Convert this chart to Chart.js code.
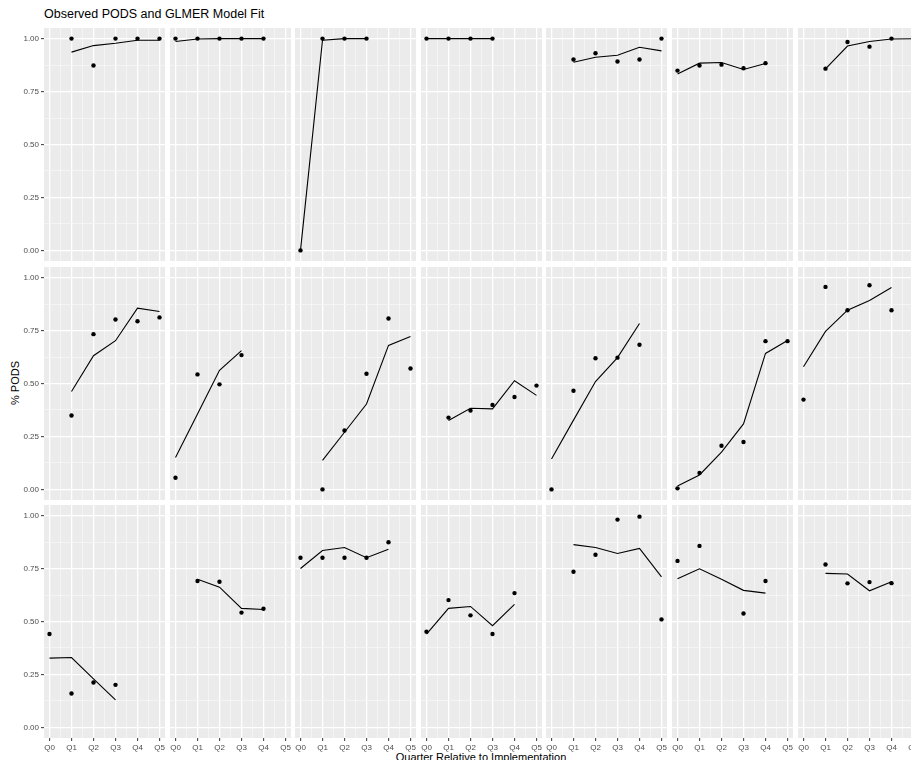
<!DOCTYPE html>
<html>
<head>
<meta charset="utf-8">
<script src="https://cdn.jsdelivr.net/npm/chart.js@4.4.1/dist/chart.umd.min.js"></script>
<style>
  html, body { margin: 0; padding: 0; background: #fff; overflow: hidden; }
  #page { position: relative; width: 911px; height: 760px; overflow: hidden; font-family: "Liberation Sans", Arial, sans-serif; }
  #page canvas { position: absolute; }
  .lbl { position: absolute; white-space: nowrap; color: #000; line-height: 1; }
</style>
</head>
<body>
<div id="page">
  <div class="lbl" style="left:44px; top:8px; font-size:12.5px;">Observed PODS and GLMER Model Fit</div>
  <div class="lbl" style="left:15px; top:383px; font-size:11px; transform: translate(-50%, -50%) rotate(-90deg);">% PODS</div>
  <div class="lbl" style="left:481px; top:752px; font-size:11px; transform: translateX(-50%);">Quarter Relative to Implementation</div>
</div>
<script>
// quarters on the x axis
const quarters = ['Q0', 'Q1', 'Q2', 'Q3', 'Q4', 'Q5'];
const yTicks = [0, 0.25, 0.5, 0.75, 1];

// observed PODS share per facet (row by row, 7 facets per row), null = no data
const observed = [
  [null, 1.00, 0.873, 1.00, 1.00, 1.00],
  [1.00, 1.00, 1.00, 1.00, 1.00, null],
  [0.00, 1.00, 1.00, 1.00, null, null],
  [1.00, 1.00, 1.00, 1.00, null, null],
  [null, 0.901, 0.931, 0.892, 0.901, 1.00],
  [0.849, 0.873, 0.877, 0.860, 0.884, null],
  [null, 0.858, 0.984, 0.962, 1.00, null],

  [null, 0.349, 0.733, 0.802, 0.794, 0.812],
  [0.055, 0.543, 0.496, 0.634, null, null],
  [null, 0.00, 0.278, 0.546, 0.807, 0.571],
  [null, 0.339, 0.372, 0.399, 0.436, 0.490],
  [0.00, 0.466, 0.619, 0.622, 0.683, null],
  [0.005, 0.078, 0.206, 0.224, 0.700, 0.700],
  [0.424, 0.956, 0.846, 0.964, 0.846, null],

  [0.441, 0.160, 0.212, 0.201, null, null],
  [null, 0.691, 0.688, 0.542, 0.560, null],
  [0.801, 0.801, 0.801, 0.801, 0.874, null],
  [0.452, 0.601, 0.529, 0.441, 0.634, null],
  [null, 0.735, 0.815, 0.981, 0.995, 0.510],
  [0.786, 0.857, null, 0.538, 0.691, null],
  [null, 0.769, 0.680, 0.686, 0.681, null]
];

// GLMER fitted values per facet
const fitted = [
  [null, 0.936, 0.967, 0.978, 0.992, 0.992],
  [0.986, 0.998, 1.00, 1.00, 1.00, null],
  [0.00, 0.992, 1.00, 1.00, null, null],
  [1.00, 1.00, 1.00, 1.00, null, null],
  [null, 0.888, 0.912, 0.921, 0.959, 0.942],
  [0.833, 0.884, 0.887, 0.854, 0.882, null],
  [null, 0.857, 0.965, 0.986, 0.998, 0.999],

  [null, 0.462, 0.631, 0.702, 0.856, 0.840],
  [0.151, 0.356, 0.562, 0.655, null, null],
  [null, 0.137, 0.270, 0.403, 0.680, 0.722],
  [null, 0.325, 0.383, 0.380, 0.513, 0.444],
  [0.144, 0.327, 0.509, 0.622, 0.783, null],
  [0.016, 0.068, 0.176, 0.309, 0.642, 0.703],
  [0.579, 0.746, 0.846, 0.892, 0.953, null],

  [0.327, 0.330, 0.229, 0.130, null, null],
  [null, 0.699, 0.662, 0.562, 0.557, null],
  [0.750, 0.835, 0.849, 0.801, 0.841, null],
  [0.440, 0.562, 0.571, 0.480, 0.581, null],
  [null, 0.863, 0.849, 0.821, 0.845, 0.711],
  [0.702, 0.749, 0.699, 0.647, 0.634, null],
  [null, 0.727, 0.724, 0.645, 0.688, null]
];

// facet layout
const colLeft = [44, 170, 295, 421, 546, 672, 798];
const rowTop = [28, 267, 505];
const panelW = 121;
const panelH = 233;
const yAxisW = 44;
const xAxisH = 20;

Chart.defaults.font.family = '"Liberation Sans", Arial, sans-serif';
Chart.defaults.color = '#4D4D4D';

// grey panel background
const panelBg = {
  id: 'panelBg',
  beforeDraw(chart) {
    const { ctx, chartArea: a } = chart;
    ctx.save();
    ctx.fillStyle = '#EBEBEB';
    ctx.fillRect(a.left, a.top, a.right - a.left, a.bottom - a.top);
    ctx.restore();
  }
};

const isWhole = v => Math.abs(v - Math.round(v)) < 1e-6;
const isYMajor = v => yTicks.some(t => Math.abs(t - v) < 1e-6);

function toPoints(arr) {
  const pts = [];
  arr.forEach((v, i) => { if (v !== null) pts.push({ x: i, y: v }); });
  return pts;
}

// no label padding: keep every facet's data range identical
function noPad(s) {
  s.paddingTop = 0;
  s.paddingBottom = 0;
  s.paddingLeft = 0;
  s.paddingRight = 0;
}

const xGrid = [];
for (let i = 0; i <= 10; i++) xGrid.push(i / 2);
const yGrid = [];
for (let i = 0; i <= 8; i++) yGrid.push(i / 8);

const page = document.getElementById('page');

observed.forEach((obs, p) => {
  const r = Math.floor(p / 7);
  const c = p % 7;
  const showY = c === 0;
  const showX = r === 2;

  const canvas = document.createElement('canvas');
  const left = showY ? colLeft[c] - yAxisW : colLeft[c];
  canvas.width = panelW + (showY ? yAxisW : 0);
  canvas.height = panelH + (showX ? xAxisH : 0);
  canvas.style.left = left + 'px';
  canvas.style.top = rowTop[r] + 'px';
  page.appendChild(canvas);

  new Chart(canvas.getContext('2d'), {
    data: {
      datasets: [
        {
          type: 'line',
          data: toPoints(fitted[p]),
          borderColor: '#000',
          borderWidth: 1.1,
          pointRadius: 0,
          tension: 0,
          fill: false
        },
        {
          type: 'scatter',
          data: toPoints(obs),
          backgroundColor: '#000',
          borderWidth: 0,
          pointRadius: 2.2
        }
      ]
    },
    options: {
      responsive: false,
      maintainAspectRatio: false,
      animation: false,
      layout: { padding: 0, autoPadding: false },
      plugins: { legend: { display: false }, tooltip: { enabled: false } },
      scales: {
        x: {
          type: 'linear',
          min: -0.25,
          max: 5.25,
          afterBuildTicks: s => { s.ticks = xGrid.map(v => ({ value: v })); },
          afterFit: s => { s.height = showX ? xAxisH : 0; noPad(s); },
          border: { display: false },
          grid: {
            drawTicks: showX,
            tickLength: 3,
            color: ctx => isWhole(ctx.tick.value) ? '#FFFFFF' : '#F6F6F6',
            lineWidth: ctx => isWhole(ctx.tick.value) ? 1.3 : 0.8,
            tickColor: ctx => isWhole(ctx.tick.value) ? '#333333' : 'rgba(0,0,0,0)',
            tickWidth: 1
          },
          ticks: {
            display: showX,
            autoSkip: false,
            maxRotation: 0,
            padding: 2,
            font: { size: 8 },
            color: '#4D4D4D',
            callback: v => isWhole(v) ? quarters[Math.round(v)] : ''
          }
        },
        y: {
          type: 'linear',
          min: -0.05,
          max: 1.05,
          afterBuildTicks: s => { s.ticks = yGrid.map(v => ({ value: v })); },
          afterFit: s => { s.width = showY ? yAxisW : 0; noPad(s); },
          border: { display: false },
          grid: {
            drawTicks: showY,
            tickLength: 3,
            color: ctx => isYMajor(ctx.tick.value) ? '#FFFFFF' : '#F6F6F6',
            lineWidth: ctx => isYMajor(ctx.tick.value) ? 1.3 : 0.8,
            tickColor: ctx => isYMajor(ctx.tick.value) ? '#333333' : 'rgba(0,0,0,0)',
            tickWidth: 1
          },
          ticks: {
            display: showY,
            autoSkip: false,
            padding: 2,
            font: { size: 8 },
            color: '#4D4D4D',
            callback: v => isYMajor(v) ? v.toFixed(2) : ''
          }
        }
      }
    },
    plugins: [panelBg]
  });
});
</script>
</body>
</html>
